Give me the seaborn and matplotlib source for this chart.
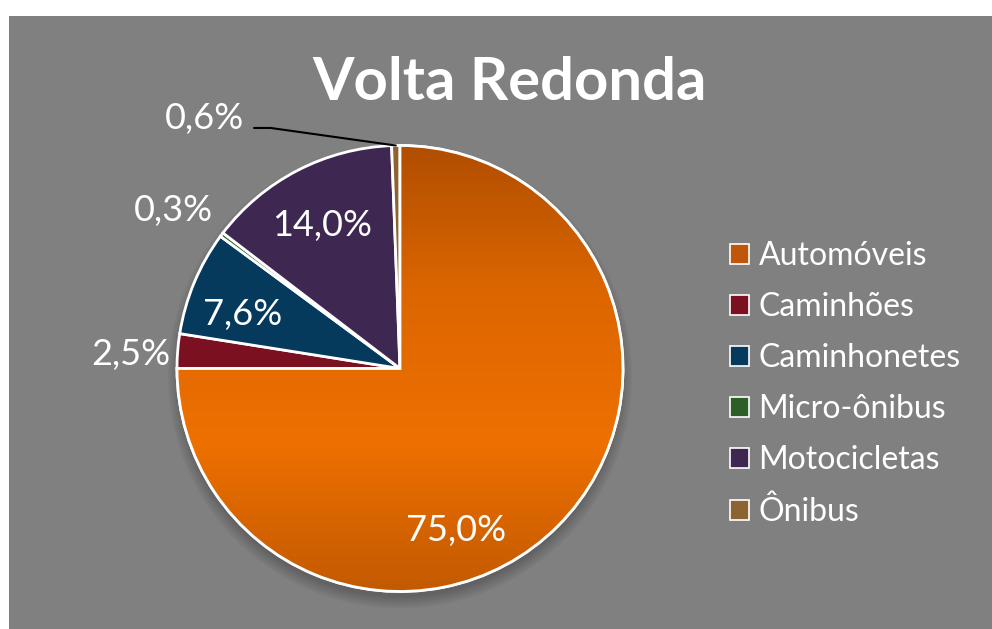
import numpy as np
import matplotlib
matplotlib.use("Agg")
import matplotlib.pyplot as plt
import matplotlib.patches as mpatches
from matplotlib.colors import LinearSegmentedColormap
import seaborn as sns

categories = ["Automóveis", "Caminhões", "Caminhonetes", "Micro-ônibus", "Motocicletas", "Ônibus"]
shares = [75.0, 2.5, 7.6, 0.3, 14.0, 0.6]
labels = ["75,0%", "2,5%", "7,6%", "0,3%", "14,0%", "0,6%"]
title = "Volta Redonda"

sns.set_theme(style="white")
plt.rcParams["font.family"] = ["Lato", "DejaVu Sans"]

colors = sns.color_palette(["#C0560A", "#7B1020", "#053A5C", "#2E5E28", "#3E2852", "#8B6431"])

W, H = 992, 629
fig = plt.figure(figsize=(W / 100, H / 100), dpi=100, facecolor="white")
# grey chart area (white strip on top and left)
fig.patches.append(mpatches.Rectangle((9 / W, 0), 1, (H - 16) / H, transform=fig.transFigure,
                                      facecolor="#808080", edgecolor="none", zorder=-5))

cx, cy, r = 400, H - 368.5, 223
ax = fig.add_axes([(cx - 1.5 * r) / W, (cy - 1.5 * r) / H, 3 * r / W, 3 * r / H])
ax.set_axis_off()

# soft shadow under the pie
for k in range(6):
    ax.add_patch(mpatches.Circle((0.0, -0.035), 0.99 + 0.01 * k, facecolor="black",
                                 edgecolor="none", alpha=0.04, zorder=0))

wedges, _ = ax.pie(shares, colors=colors, startangle=90, counterclock=False, radius=1.0,
                   wedgeprops=dict(edgecolor="white", linewidth=2, zorder=2))

# orange gradient on the big slice
grad = LinearSegmentedColormap.from_list("og", ["#C35A00", "#EE7000", "#DD6600", "#B04E00"])
img = ax.imshow(np.linspace(0, 1, 256).reshape(-1, 1), cmap=grad, extent=(-1, 1, -1, 1),
                origin="lower", aspect="auto", zorder=2.5)
img.set_clip_path(wedges[0])
ax.add_patch(mpatches.Wedge((0, 0), 1.0, wedges[0].theta1, wedges[0].theta2, facecolor="none",
                            edgecolor="white", linewidth=2, zorder=3))
ax.set_xlim(-1.5, 1.5)
ax.set_ylim(-1.5, 1.5)

# label placement: radius and angle shift per slice
label_r = [0.77, 1.21, 0.745, 1.24, 0.73, None]
label_da = [-26, 1.5, 3.6, 2, 1.3, 0]
for w, lab, rr, da in zip(wedges, labels, label_r, label_da):
    mid = np.deg2rad((w.theta1 + w.theta2) / 2 + da)
    if rr is None:
        ang = np.deg2rad((w.theta1 + w.theta2) / 2)
        tip = (np.cos(ang) * 1.0, np.sin(ang) * 1.0)
        ax.annotate(lab, xy=tip, xytext=(-0.875, 1.123), color="white", fontsize=26,
                    ha="center", va="center", zorder=5,
                    arrowprops=dict(arrowstyle="-", color="black", lw=1.5,
                                    connectionstyle="angle,angleA=0,angleB=-8,rad=0",
                                    shrinkA=0, shrinkB=0,
                                    patchA=None, relpos=(1.12, 0.2)))
    else:
        ax.text(rr * np.cos(mid), rr * np.sin(mid), lab, color="white", fontsize=26,
                ha="center", va="center", zorder=5)

fig.text(510 / W, 1 - 83 / H, title, color="white", fontsize=43, fontweight="bold",
         ha="center", va="center")

handles = [mpatches.Patch(facecolor=c, edgecolor="white", linewidth=1.2) for c in colors]
leg = fig.legend(handles, categories, loc="center left", bbox_to_anchor=(701 / W, 1 - 384 / H),
                 frameon=False, fontsize=23, labelcolor="white", handlelength=0.6,
                 handleheight=0.6, handletextpad=0.3, labelspacing=0.66)

fig.savefig("out.png", dpi=100, facecolor=fig.get_facecolor())
